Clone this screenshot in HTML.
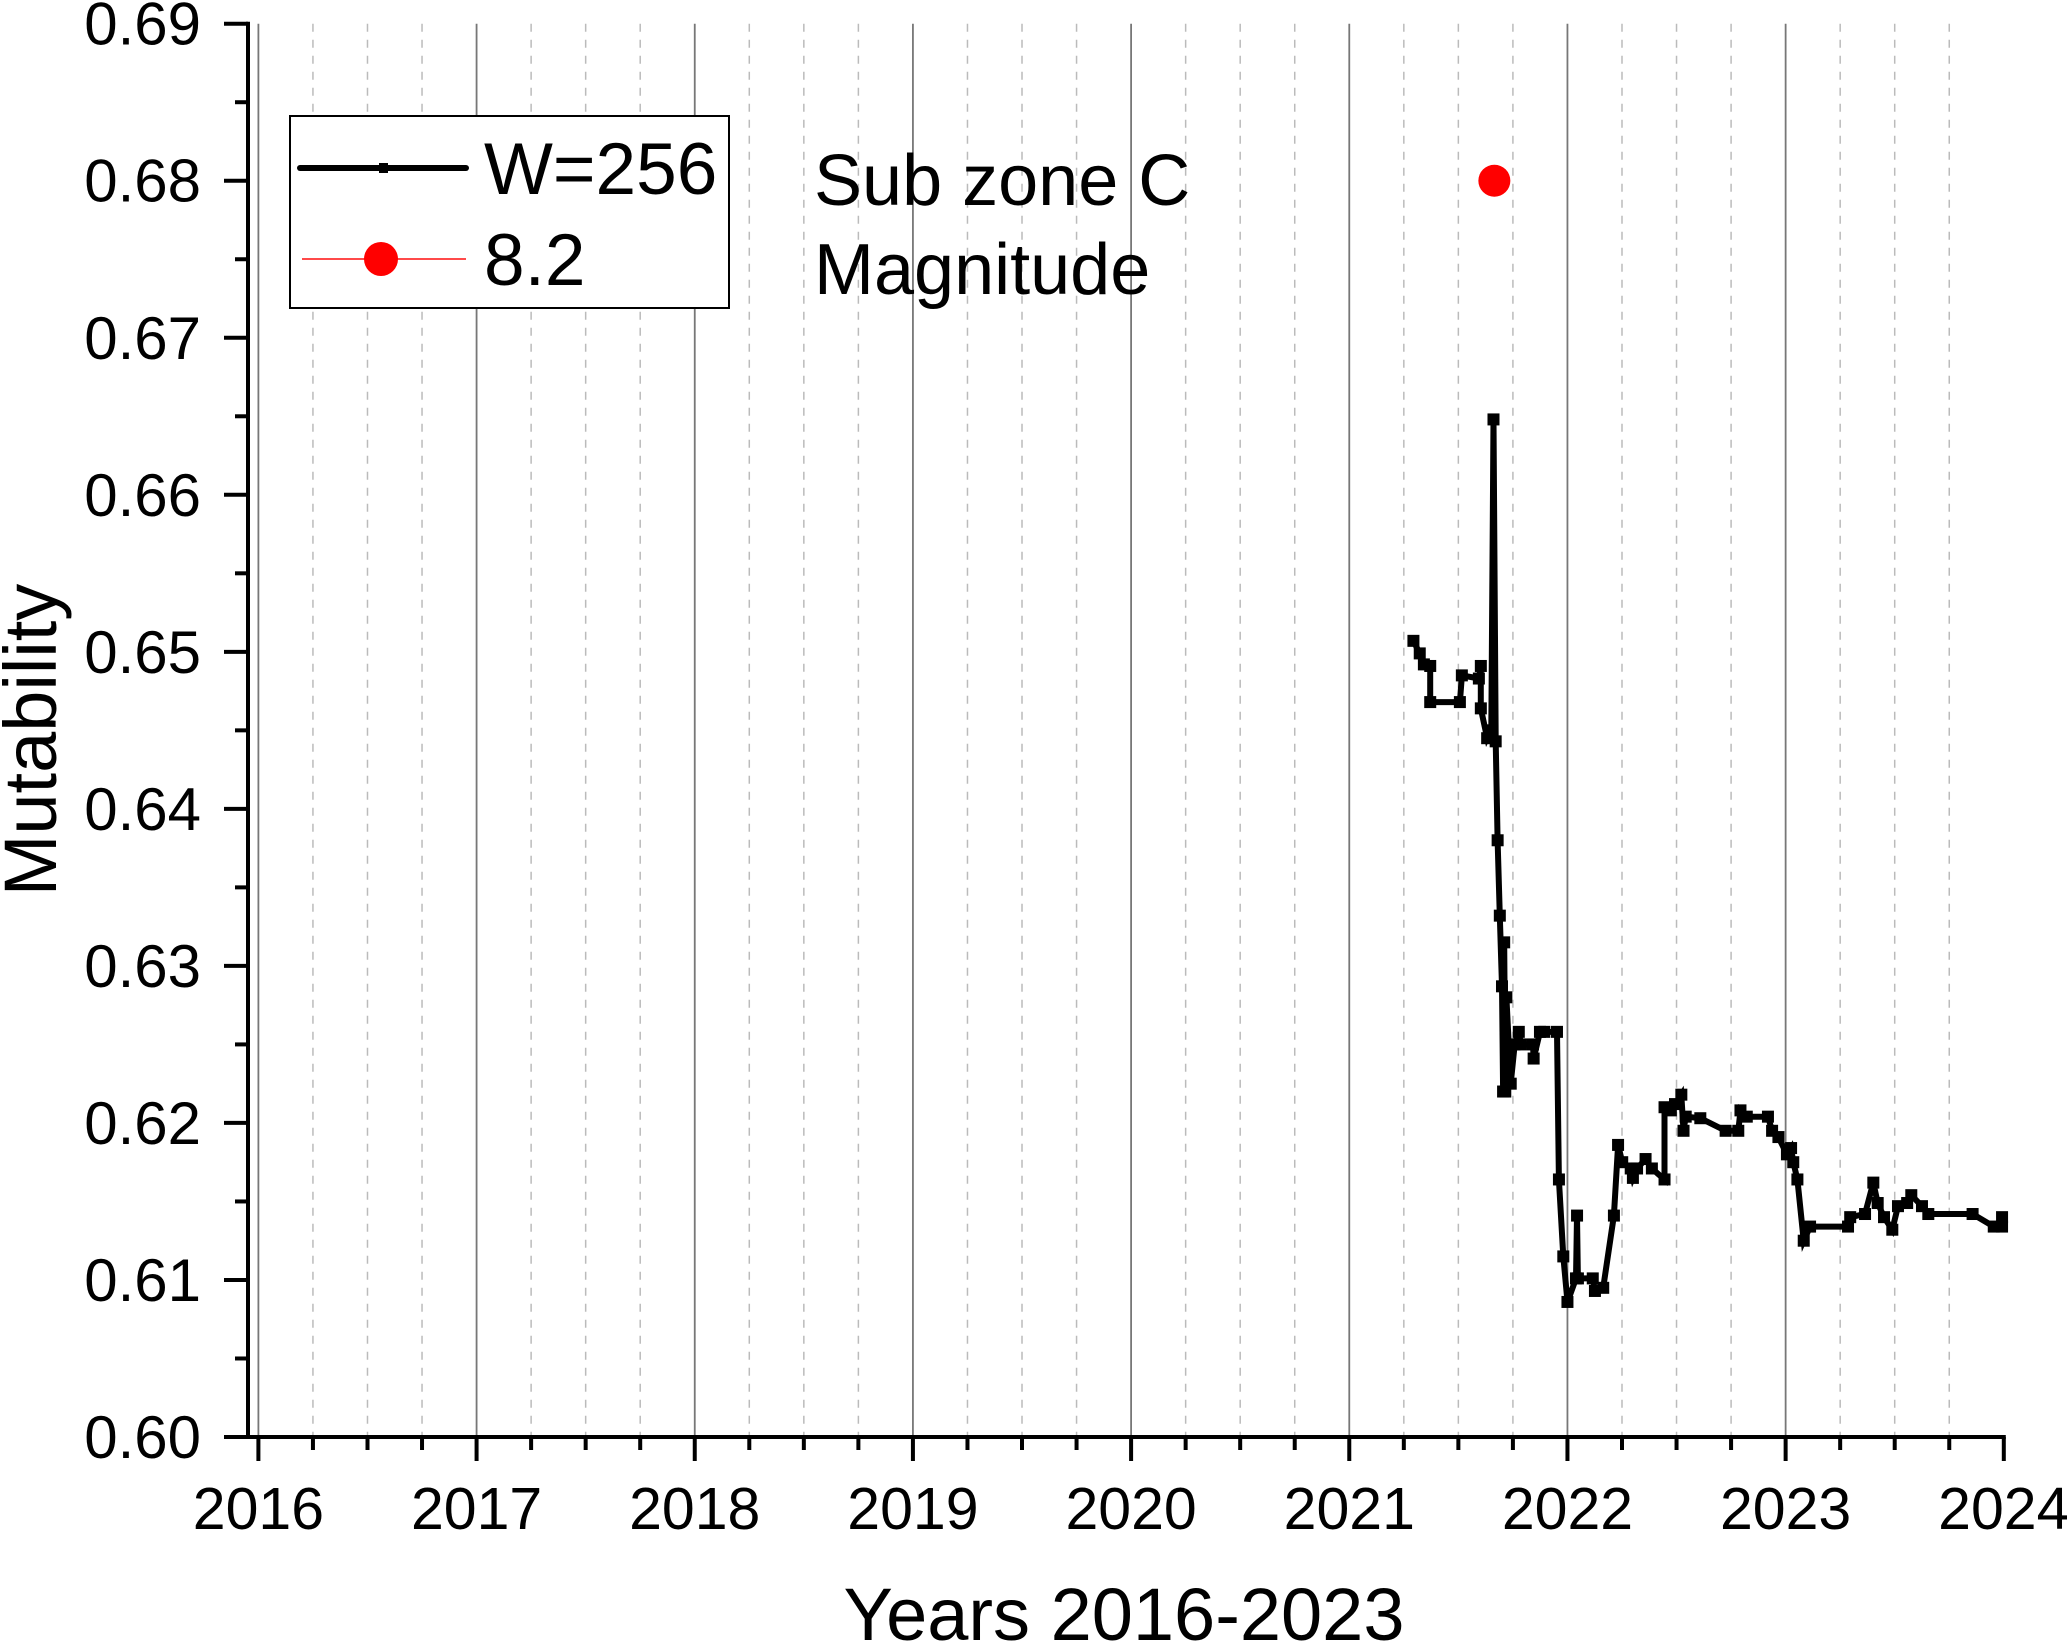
<!DOCTYPE html>
<html><head><meta charset="utf-8"><style>
html,body{margin:0;padding:0;background:#fff}
svg{display:block;font-family:"Liberation Sans",Arial,sans-serif}
</style></head><body>
<svg id="chart" width="2067" height="1647" viewBox="0 0 2067 1647" xmlns="http://www.w3.org/2000/svg">
<g id="grid"></g>
<g id="series"></g>
<g id="axes"></g>
<g>
<rect x="290" y="116" width="439" height="192" fill="#fff" stroke="#000" stroke-width="2"/>
<line x1="300" y1="168" x2="466" y2="168" stroke="#000" stroke-width="6" stroke-linecap="round"/>
<rect x="379" y="163" width="9" height="10" fill="#000"/>
<text x="484" y="194" font-size="73">W=256</text>
<line x1="302" y1="259" x2="466" y2="259" stroke="#ff4a4a" stroke-width="2"/>
<circle cx="381" cy="259" r="17" fill="#ff0000"/>
<text x="484" y="285" font-size="73">8.2</text>
<text x="814" y="205" font-size="72">Sub zone C</text>
<text x="814" y="294" font-size="72">Magnitude</text>
</g>
<text x="1124" y="1640" font-size="74" text-anchor="middle">Years 2016-2023</text>
<text transform="translate(56,740) rotate(-90)" font-size="74" text-anchor="middle">Mutability</text>
</svg>
<script>
const years=[2021.294,2021.323,2021.342,2021.371,2021.371,2021.507,2021.516,2021.594,2021.603,2021.603,2021.632,2021.651,2021.661,2021.671,2021.680,2021.690,2021.700,2021.705,2021.710,2021.715,2021.720,2021.740,2021.758,2021.777,2021.787,2021.842,2021.845,2021.874,2021.894,2021.952,2021.961,2021.981,2022.000,2022.039,2022.044,2022.048,2022.116,2022.126,2022.164,2022.213,2022.232,2022.251,2022.290,2022.300,2022.319,2022.358,2022.387,2022.445,2022.445,2022.474,2022.493,2022.522,2022.532,2022.542,2022.609,2022.725,2022.783,2022.793,2022.822,2022.919,2022.938,2022.967,2023.006,2023.025,2023.035,2023.054,2023.083,2023.112,2023.286,2023.296,2023.364,2023.402,2023.422,2023.451,2023.489,2023.515,2023.557,2023.576,2023.625,2023.654,2023.857,2023.954,2023.992,2023.992];
const values=[0.6507,0.6499,0.6492,0.6491,0.6468,0.6468,0.6485,0.6483,0.6491,0.6464,0.6445,0.6450,0.6648,0.6443,0.6380,0.6332,0.6287,0.6220,0.6315,0.6220,0.6280,0.6225,0.6250,0.6258,0.6250,0.6250,0.6241,0.6258,0.6258,0.6258,0.6164,0.6115,0.6086,0.6101,0.6141,0.6101,0.6101,0.6093,0.6095,0.6141,0.6186,0.6175,0.6171,0.6165,0.6171,0.6177,0.6171,0.6164,0.6210,0.6208,0.6212,0.6218,0.6195,0.6204,0.6203,0.6195,0.6195,0.6208,0.6204,0.6204,0.6195,0.6191,0.6180,0.6184,0.6175,0.6164,0.6125,0.6134,0.6134,0.6140,0.6142,0.6162,0.6149,0.6140,0.6132,0.6147,0.6149,0.6154,0.6147,0.6142,0.6142,0.6134,0.6134,0.6140];
const quakeYear=[2021.665];
const quakeValue=[0.68];
const yTicks=["0.60","0.61","0.62","0.63","0.64","0.65","0.66","0.67","0.68","0.69"];
const xTicks=["2016","2017","2018","2019","2020","2021","2022","2023","2024"];

const NS="http://www.w3.org/2000/svg";
const X0=258.4,X1=2003.8,Y0=1437,Y1=23.7,AX=248;
const xs=y=>X0+(y-2016)/8*(X1-X0);
const ys=v=>Y0-(v-0.60)/0.09*(Y0-Y1);
function mk(tag,attrs,parent){const e=document.createElementNS(NS,tag);for(const k in attrs)e.setAttribute(k,attrs[k]);parent.appendChild(e);return e;}
const grid=document.getElementById('grid'),axes=document.getElementById('axes'),series=document.getElementById('series');
for(let q=0;q<32;q++){const yr=2016+q/4;const x=xs(yr);
 const l=mk('line',{x1:x,y1:Y1,x2:x,y2:Y0,stroke:q%4?'#bbb':'#777','stroke-width':q%4?1.5:1.8,'stroke-dasharray':q%4?'8 8':'none'},grid);
 
 }
let a=mk('line',{x1:AX,y1:Y1-2,x2:AX,y2:Y0+2,stroke:'#000','stroke-width':4},axes);


a=mk('line',{x1:AX-2,y1:Y0,x2:X1+2,y2:Y0,stroke:'#000','stroke-width':4},axes);


yTicks.forEach((t,i)=>{const v=parseFloat(t),y=ys(v);
 const l=mk('line',{x1:AX-24,y1:y,x2:AX,y2:y,stroke:'#000','stroke-width':4},axes);
 
 
 const tx=mk('text',{x:AX-47,y:y+21,'font-size':60,'text-anchor':'end'},axes);tx.textContent=t;
 
 
 if(i<yTicks.length-1){const ym=ys(v+0.005);const m=mk('line',{x1:AX-13,y1:ym,x2:AX,y2:ym,stroke:'#000','stroke-width':4},axes);
 
 }});
xTicks.forEach((t,i)=>{const yr=parseFloat(t),x=xs(yr);
 const l=mk('line',{x1:x,y1:Y0,x2:x,y2:Y0+24,stroke:'#000','stroke-width':4},axes);
 
 
 const tx=mk('text',{x:x,y:Y0+92,'font-size':59,'text-anchor':'middle'},axes);tx.textContent=t;
 
 
 if(i<xTicks.length-1){for(let q=1;q<4;q++){const xm=xs(yr+q/4);const m=mk('line',{x1:xm,y1:Y0,x2:xm,y2:Y0+13,stroke:'#000','stroke-width':4},axes);
 
 }}});
const pts=years.map((y,i)=>xs(y).toFixed(1)+','+ys(values[i]).toFixed(1)).join(' ');
const pl=mk('polyline',{points:pts,fill:'none',stroke:'#000','stroke-width':6,'stroke-linejoin':'miter'},series);


years.forEach((y,i)=>{const r=mk('rect',{x:xs(y)-6,y:ys(values[i])-6,width:12,height:12,fill:'#000'},series);
 
 });
quakeYear.forEach((y,i)=>{const c=mk('circle',{cx:xs(y),cy:ys(quakeValue[i]),r:16,fill:'#ff0000'},series);
 
 });
</script>
</body></html>
